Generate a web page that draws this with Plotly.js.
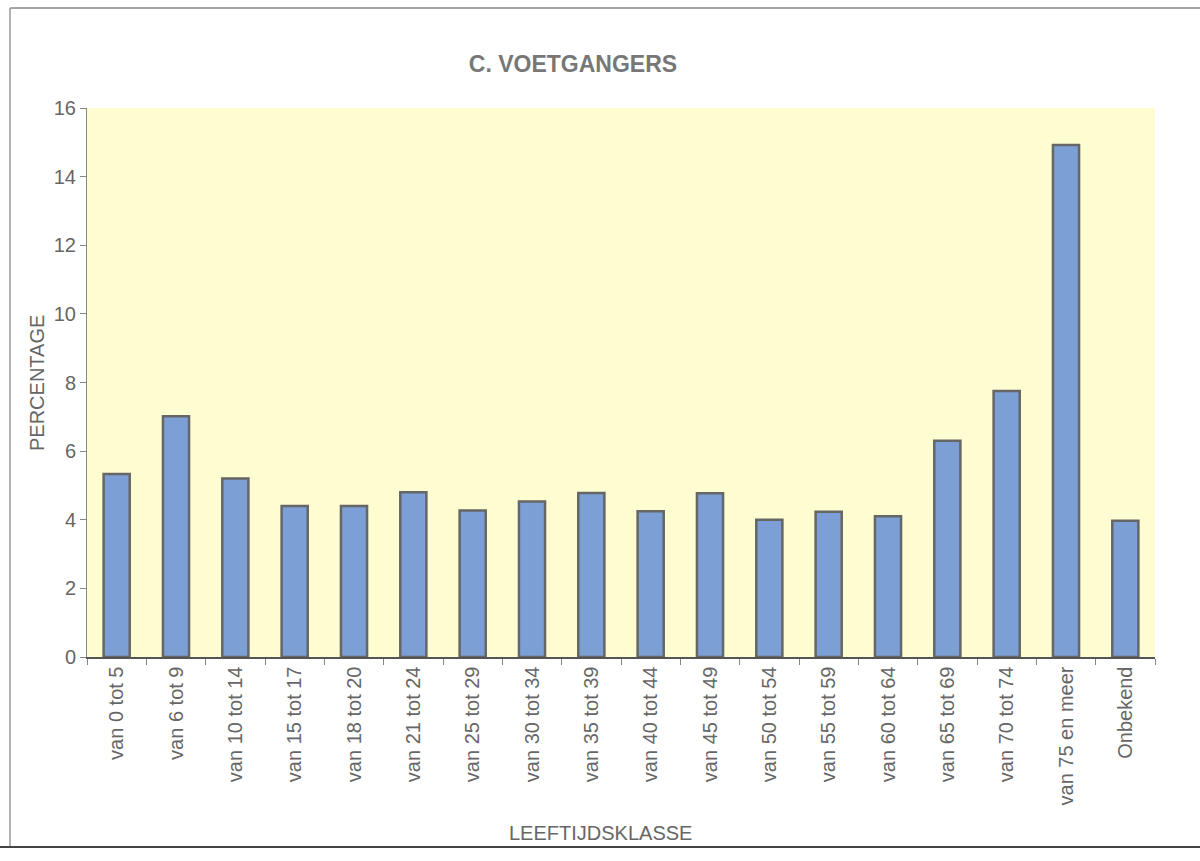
<!DOCTYPE html>
<html>
<head>
<meta charset="utf-8">
<script src="https://cdn.plot.ly/plotly-3.0.1.min.js"></script>
<style>html,body{margin:0;padding:0;background:#fff;}#chart{width:1200px;height:861px;}</style>
</head>
<body>
<div id="chart"></div>
<script>
const categories = ["van 0 tot 5","van 6 tot 9","van 10 tot 14","van 15 tot 17","van 18 tot 20","van 21 tot 24","van 25 tot 29","van 30 tot 34","van 35 tot 39","van 40 tot 44","van 45 tot 49","van 50 tot 54","van 55 tot 59","van 60 tot 64","van 65 tot 69","van 70 tot 74","van 75 en meer","Onbekend"];
const percentages = [5.33, 7.02, 5.2, 4.4, 4.4, 4.8, 4.27, 4.53, 4.78, 4.25, 4.77, 4.0, 4.23, 4.1, 6.3, 7.75, 14.92, 3.97];
const yTicks = [0, 2, 4, 6, 8, 10, 12, 14, 16];
const chartTitle = "C. VOETGANGERS";
const xTitle = "LEEFTIJDSKLASSE";
const yTitle = "PERCENTAGE";

const W = 1200, H = 861;
const margin = {l: 87, r: 45, t: 108, b: 204};
const pw = W - margin.l - margin.r, ph = H - margin.t - margin.b;
const px = v => (v - margin.l) / pw;
const py = v => (H - margin.b - v) / ph;

const font = "Liberation Sans, Arial, sans-serif";

const trace = {
  type: 'bar',
  x: categories,
  y: percentages,
  width: 0.44,
  marker: {color: '#7CA0D5', line: {color: '#666666', width: 2.5}},
  hoverinfo: 'x+y'
};

const layout = {
  width: W, height: H,
  margin: margin,
  paper_bgcolor: '#ffffff',
  plot_bgcolor: '#FEFDD2',
  showlegend: false,
  font: {family: font, color: '#666666'},
  title: {text: chartTitle, x: 573 / W, xref: 'container', xanchor: 'center', y: 1 - 64 / H, yref: 'container', yanchor: 'middle', font: {family: font, size: 23, color: '#777777', weight: 'bold'}},
  xaxis: {
    type: 'category',
    tickangle: -90,
    tickfont: {family: font, size: 20, color: '#666666'},
    showgrid: false, zeroline: false,
    showline: true, linecolor: '#555555', linewidth: 1.5,
    ticks: 'outside', ticklen: 6, tickcolor: '#888888', tickson: 'boundaries',
    range: [-0.5, categories.length - 0.5]
  },
  yaxis: {
    range: [0, 16],
    tickvals: yTicks,
    tickfont: {family: font, size: 20, color: '#666666'},
    showgrid: false, zeroline: false,
    showline: true, linecolor: '#888888', linewidth: 1,
    ticks: 'outside', ticklen: 6, tickcolor: '#888888'
  },
  annotations: [
    {text: xTitle, xref: 'paper', yref: 'paper', x: px(600), y: py(833), xanchor: 'center', yanchor: 'middle', showarrow: false, font: {family: font, size: 20, color: '#666666'}},
    {text: yTitle, xref: 'paper', yref: 'paper', x: px(37), y: py(383), xanchor: 'center', yanchor: 'middle', textangle: -90, showarrow: false, font: {family: font, size: 20, color: '#666666'}}
  ],
  shapes: [
    {type: 'line', xref: 'paper', yref: 'paper', x0: px(10), x1: px(1200), y0: py(8), y1: py(8), line: {color: '#888888', width: 1.5}},
    {type: 'line', xref: 'paper', yref: 'paper', x0: px(10), x1: px(10), y0: py(8), y1: py(846), line: {color: '#999999', width: 1.5}},
    {type: 'line', xref: 'paper', yref: 'paper', x0: px(0), x1: px(1200), y0: py(847), y1: py(847), line: {color: '#444444', width: 2}}
  ]
};

Plotly.newPlot('chart', [trace], layout, {displayModeBar: false, staticPlot: true});
</script>
</body>
</html>
